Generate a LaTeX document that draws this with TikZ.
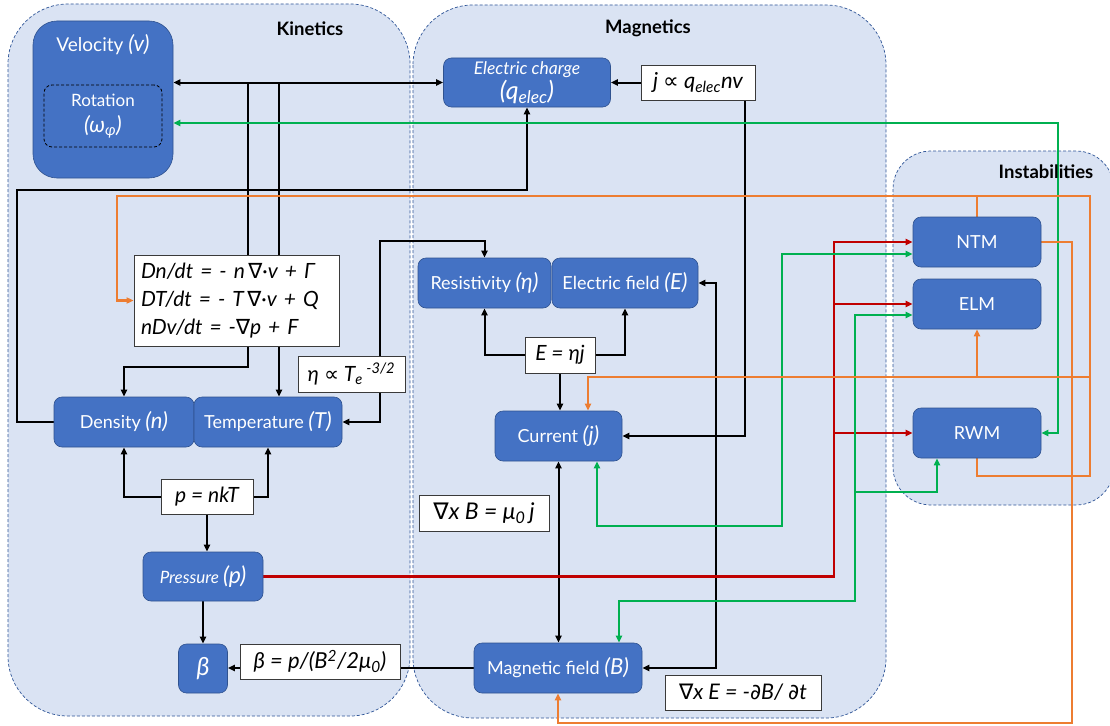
\documentclass[tikz,border=0pt]{standalone}
\usepackage{fontspec}
\setmainfont{Lato}
\newfontfamily\symf{DejaVu Sans}
\usetikzlibrary{arrows.meta}

\definecolor{grpfill}{HTML}{DAE3F3}
\definecolor{grpline}{HTML}{2F5597}
\definecolor{boxfill}{HTML}{4472C4}
\definecolor{boxline}{HTML}{2F528F}
\definecolor{linkred}{HTML}{C00000}
\definecolor{linkgreen}{HTML}{00B050}
\definecolor{linkorange}{HTML}{ED7D31}
\definecolor{frmline}{HTML}{3A3A3A}

\newcommand{\fs}[2]{\fontsize{#1}{#2}\selectfont}
\newcommand{\nab}{{\symf\itshape ∇}}
\newcommand{\prp}{{\symf ∝}}
\newcommand{\prt}{{\symf\itshape ∂}}
\newcommand{\var}[1]{{\fs{22}{24}\itshape #1}}

\pgfdeclarelayer{back}
\pgfdeclarelayer{mid}
\pgfsetlayers{back,mid,main}

\begin{document}
\begin{tikzpicture}[x=1pt,y=-1pt,
  >={Triangle[length=7pt,width=6pt]},
  group/.style={draw=grpline, dash pattern=on 3pt off 2pt, line width=0.7pt, fill=grpfill},
  grouptitle/.style={font=\fs{18.5}{22}\bfseries, text=black},
  blue/.style={draw=boxline, line width=0.6pt, fill=boxfill, rounded corners=8pt,
     text=white, align=center, inner sep=0pt, font=\fs{18}{22}},
  formula/.style={draw=frmline, line width=0.8pt, fill=white, inner sep=0pt,
     font=\fs{21}{24}\itshape, text=black},
  wire/.style={draw=black, line width=2pt},
  redwire/.style={draw=linkred, line width=2.6pt},
  greenwire/.style={draw=linkgreen, line width=2.8pt},
  orangewire/.style={draw=linkorange, line width=2.6pt},
]
\useasboundingbox (0,0) rectangle (1110,725);

% ---------- group areas ----------
\begin{pgfonlayer}{back}
  \fill[white] (0,0) rectangle (1110,725);
  \draw[group, rounded corners=60pt] (8,4) rectangle (410,716);
  \draw[group, rounded corners=60pt] (413,5) rectangle (886,718);
  \draw[group, rounded corners=38pt] (893,151) rectangle (1114,505);
\end{pgfonlayer}

\node[grouptitle] (kinT) at (310,29) {Kinetics};
\node[grouptitle] (magT) at (648,28) {Magnetics};
\node[grouptitle] (insT) at (1046,172) {Instabilities};

% ---------- kinetics ----------
\node[blue, rounded corners=24pt, minimum width=140pt, minimum height=157pt] (vel) at (103,99.5) {};
\node[text=white, font=\fs{19}{22}] (velT) at (103,45) {Velocity \var{(v)}};
\node[draw=black, dash pattern=on 3pt off 2pt, line width=0.8pt, rounded corners=8pt,
      minimum width=118pt, minimum height=62pt, inner sep=0pt, align=center,
      text=white, font=\fs{17}{26}] (rot) at (103,116)
      {Rotation\\{\fs{22}{26}\itshape(ω\textsubscript{φ})}};

\node[formula, minimum width=205pt, minimum height=91pt, text width=191pt, align=left,
      inner xsep=7pt, font=\fs{21}{28}\itshape] (eq) at (236.5,300.5)
      {Dn/dt = - n\,\nab·v + Γ\\DT/dt = - T\,\nab·v + Q\\nDv/dt = -\nab p + F};
\node[formula, minimum width=107pt, minimum height=36pt] (eta) at (351.5,374)
      {η \prp{} T\textsubscript{e}\,\textsuperscript{-3/2}};

\node[blue, minimum width=140pt, minimum height=50pt] (dens) at (124,422) {Density \var{(n)}};
\node[blue, minimum width=148pt, minimum height=50pt] (temp) at (268,422) {Temperature \var{(T)}};
\node[formula, minimum width=92pt, minimum height=35pt] (pnk) at (207,496.5) {p = nkT};
\node[blue, minimum width=120pt, minimum height=49pt, font=\fs{17}{22}\itshape] (press) at (203,576.5) {Pressure {\fs{23}{24}(p)}};
\node[blue, minimum width=49pt, minimum height=49pt, font=\fs{25}{26}\itshape] (beta) at (203,668.5) {β};
\node[formula, minimum width=160pt, minimum height=35pt, font=\fs{22}{24}\itshape] (bb) at (320,661.5) {β = p/(B\textsuperscript{2}/2μ\textsubscript{0})};

% ---------- magnetics ----------
\node[blue, minimum width=167pt, minimum height=49pt, font=\fs{17.5}{25}\itshape] (ch) at (527,82.5)
      {Electric charge\\{\fs{25}{25}(q\textsubscript{elec})}};
\node[formula, minimum width=114pt, minimum height=35pt, font=\fs{22}{24}\itshape] (jb) at (698,82.5)
      {j \prp{} q\textsubscript{elec}nv};
\node[blue, minimum width=133pt, minimum height=50pt] (res) at (484.5,283) {Resistivity \var{(η)}};
\node[blue, minimum width=146pt, minimum height=50pt] (ef) at (625,283) {Electric field \var{(E)}};
\node[formula, minimum width=70pt, minimum height=36pt] (ej) at (560,355) {E = ηj};
\node[blue, minimum width=127pt, minimum height=50pt] (cur) at (558.5,436) {Current \var{(j)}};
\node[formula, minimum width=130pt, minimum height=36pt, font=\fs{23}{24}\itshape] (amp) at (484,513) {\nab x B = μ\textsubscript{0}\,j};
\node[blue, minimum width=168pt, minimum height=50pt] (mag) at (558,668) {Magnetic field \var{(B)}};
\node[formula, minimum width=156pt, minimum height=35pt, font=\fs{21.5}{24}\itshape] (far) at (743,692.5) {\nab x E = -\prt B/ \prt t};

% ---------- instabilities ----------
\node[blue, minimum width=128pt, minimum height=50pt] (ntm) at (977,242) {NTM};
\node[blue, minimum width=128pt, minimum height=50pt] (elm) at (977,304) {ELM};
\node[blue, minimum width=128pt, minimum height=50pt] (rwm) at (977,433) {RWM};

% ---------- connectors ----------
\begin{pgfonlayer}{mid}
  % velocity / charge bus fed from the transport equations
  \coordinate (busA) at (248,83);
  \coordinate (busB) at (279,83);
  \draw[wire,<->] (vel.east |- ch.west) -- (ch.west);
  \draw[wire] (eq.north -| busA) -- (busA);
  \draw[wire] (eq.north -| busB) -- (busB);

  % density feeds the electric charge
  \coordinate (dcA) at (17,190);
  \draw[wire,->] (dens.west) -| (dcA) -- (dcA -| ch.south) -- (ch.south);

  % equations to density and temperature
  \draw[wire,->] (eq.south -| busA) -- ++(0,21) -| (dens.north);
  \draw[wire,->] (eq.south -| busB) -- (temp.north -| busB);

  % temperature <-> resistivity
  \coordinate (etaA) at (380,241);
  \draw[wire,<->] (temp.east) -| (etaA) -| (res.north);

  % pressure relations
  \draw[wire,->] (pnk.west) -| (dens.south);
  \draw[wire,->] (pnk.east) -| (temp.south);
  \draw[wire,->] (pnk.south) -- (pnk.south |- press.north);
  \draw[wire,->] (press.south) -- (press.south |- beta.north);
  \draw[wire,->] (mag.west) -- (mag.west -| beta.east);

  % Ohm's law
  \draw[wire,->] (ej.west) -| (res.south);
  \draw[wire,->] (ej.east) -| (ef.south);
  \draw[wire,->] (ej.south) -- (ej.south |- cur.north);
  \draw[wire,<->] (cur.south) -- (cur.south |- mag.north);

  % current from charge transport
  \draw[wire,->] (jb.west) -- (ch.east);
  \coordinate (jA) at (745,436);
  \draw[wire,->] (jb.south -| jA) -- (jA) -- (cur.east);

  % Faraday's law
  \coordinate (emA) at (716,283);
  \draw[wire,<->] (ef.east) -- (emA) |- (mag.east);

  % pressure drives the instabilities
  \coordinate (rA) at (834,577);
  \draw[redwire,->] (press.east) -- (press.east -| rA) |- (ntm.west);
  \draw[redwire,->] (rA |- elm.west) -- (elm.west);
  \draw[redwire,->] (rA |- rwm.west) -- (rwm.west);

  % green couplings
  \coordinate (gA) at (1058,123);
  \draw[greenwire,<->] (vel.east |- gA) -- (gA) |- (rwm.east);
  \coordinate (gB) at (782,526);
  \draw[greenwire,<->] ([xshift=38.5pt]cur.south) |- (gB) |- ([yshift=-12pt]ntm.west);
  \coordinate (gC) at (855,601);
  \draw[greenwire,<->] ([xshift=61pt]mag.north) |- (gC) |- ([yshift=-11pt]elm.west);
  \coordinate (gD) at (855,492);
  \draw[greenwire,->] (gD) -| ([xshift=-40pt]rwm.south);

  % orange feedback paths
  \coordinate (oA) at (117,196);
  \coordinate (oB) at (1090,196);
  \coordinate (oC) at (1090,476);
  \coordinate (oD) at (1090,377);
  \coordinate (oE) at (1072,723);
  \draw[orangewire,->] (ntm.north) |- (oA) |- (eq.west);
  \draw[orangewire] (ntm.north |- oA) -- (oB) -- (oC) -| (rwm.south);
  \draw[orangewire,line width=2pt,->] (oD) -| ([xshift=29.5pt]cur.north);
  \draw[orangewire,line width=2pt,->] (elm.south |- oD) -- (elm.south);
  \draw[orangewire,->] (ntm.east) -| (oE) -| (mag.south);
\end{pgfonlayer}
\end{tikzpicture}
\end{document}
